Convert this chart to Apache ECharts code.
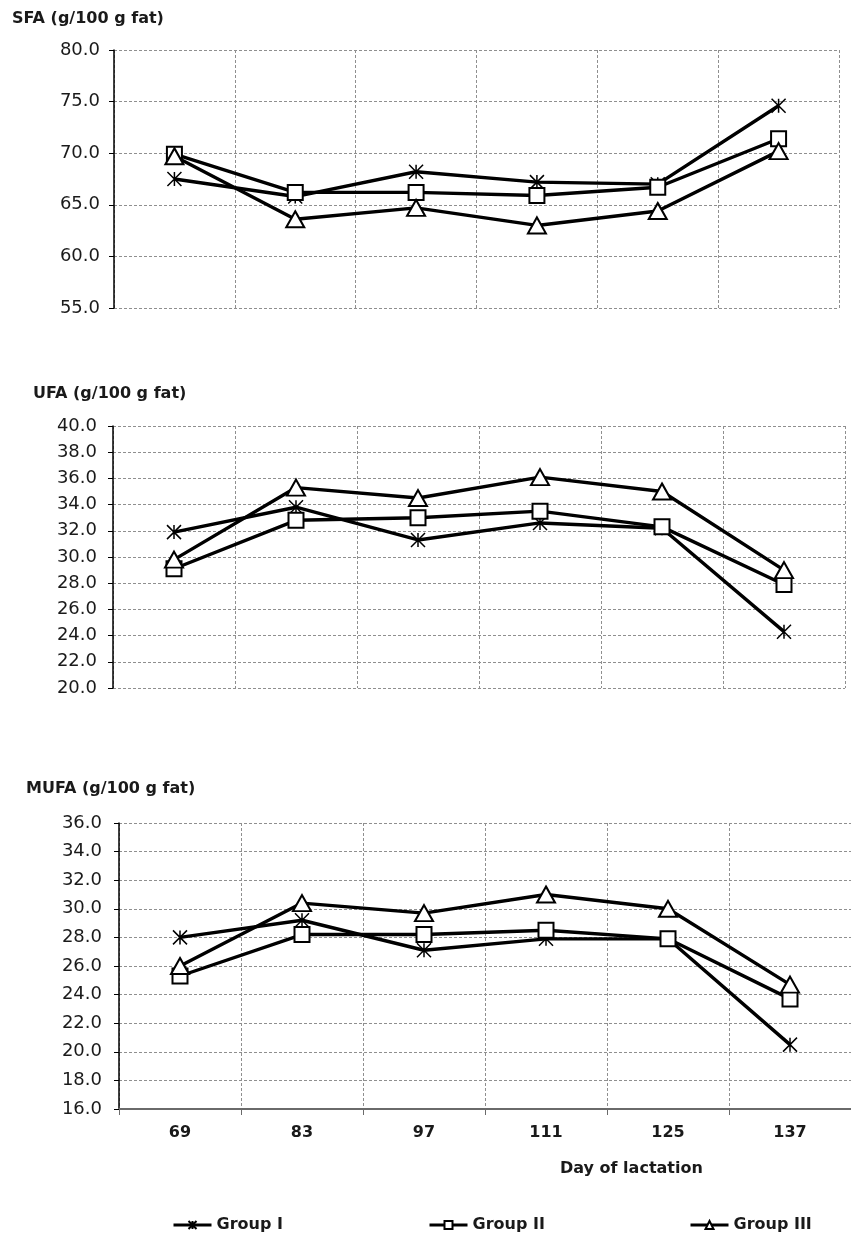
<!DOCTYPE html>
<html>
<head>
<meta charset="utf-8">
<script src="https://cdn.jsdelivr.net/npm/echarts@6/dist/echarts.min.js"></script>
<style>
html,body{margin:0;padding:0;background:#fff;}
#c{width:851px;height:1236px;}
</style>
</head>
<body>
<div id="c"></div>
<script>
// Day of lactation (categories)
const categories = ['69', '83', '97', '111', '125', '137'];
const seriesNames = ['Group I', 'Group II', 'Group III'];

// SFA (g/100 g fat)
const sfaI   = [67.5, 65.8, 68.2, 67.2, 67.0, 74.6];
const sfaII  = [69.9, 66.2, 66.2, 65.9, 66.7, 71.4];
const sfaIII = [69.7, 63.6, 64.7, 63.0, 64.4, 70.2];

// UFA (g/100 g fat)
const ufaI   = [31.9, 33.8, 31.3, 32.6, 32.2, 24.3];
const ufaII  = [29.1, 32.8, 33.0, 33.5, 32.3, 27.9];
const ufaIII = [29.8, 35.3, 34.5, 36.1, 35.0, 29.0];

// MUFA (g/100 g fat)
const mufaI   = [28.0, 29.2, 27.1, 27.9, 27.9, 20.5];
const mufaII  = [25.3, 28.2, 28.2, 28.5, 27.9, 23.7];
const mufaIII = [26.0, 30.4, 29.7, 31.0, 30.0, 24.7];

const panelTitles = ['SFA (g/100 g fat)', 'UFA (g/100 g fat)', 'MUFA (g/100 g fat)'];
const xAxisName = 'Day of lactation';

const FONT = '"DejaVu Sans", "Liberation Sans", Arial, sans-serif';
const TXT = '#1a1a1a';
const GRIDC = '#8f8f8f';

const asteriskPath = 'path://M0,0L12,14M12,0L0,14M6,0L6,14';

function yAx(gi, min, max, interval, margin) {
  return {
    type: 'value', gridIndex: gi, min: min, max: max, interval: interval,
    axisLine: {show: true, onZero: false, lineStyle: {color: '#000', width: 1.5}},
    axisTick: {show: true, length: 5, lineStyle: {color: '#000', width: 1}},
    axisLabel: {formatter: v => v.toFixed(1), fontFamily: FONT, fontSize: 18, color: TXT, margin: margin},
    splitLine: {show: true, lineStyle: {color: GRIDC, type: [3, 2], width: 1}}
  };
}
function xAx(gi, bottom) {
  return {
    type: 'category', gridIndex: gi, data: categories, boundaryGap: true,
    axisLine: {show: bottom, onZero: false, lineStyle: {color: '#6a6a6a', width: 2}},
    axisTick: {show: bottom, length: 6, alignWithLabel: false, lineStyle: {color: '#6a6a6a', width: 1}},
    axisLabel: {show: bottom, fontFamily: FONT, fontSize: 16, fontWeight: 'bold', color: TXT, margin: 16},
    splitLine: {show: true, lineStyle: {color: GRIDC, type: [3, 2], width: 1}}
  };
}

const styles = [
  {symbol: asteriskPath, symbolSize: 14, itemStyle: {color: '#000', borderColor: '#000', borderWidth: 1.5}},
  {symbol: 'rect', symbolSize: 15, itemStyle: {color: '#fff', borderColor: '#000', borderWidth: 2}},
  {symbol: 'triangle', symbolSize: [18, 16], itemStyle: {color: '#fff', borderColor: '#000', borderWidth: 2}}
];

const panels = [[sfaI, sfaII, sfaIII], [ufaI, ufaII, ufaIII], [mufaI, mufaII, mufaIII]];
const series = [];
panels.forEach((groups, gi) => {
  groups.forEach((vals, si) => {
    series.push(Object.assign({
      type: 'line', name: seriesNames[si], xAxisIndex: gi, yAxisIndex: gi,
      data: vals, showAllSymbol: true,
      lineStyle: {color: '#000', width: 3.4},
      emphasis: {disabled: true},
      z: 2 + si
    }, JSON.parse(JSON.stringify(styles[si]))));
  });
});

function legendAt(name, left) {
  return {
    data: [name], left: left, top: 1212, itemWidth: 38, itemHeight: 10, itemGap: 6,
    lineStyle: {width: 3, color: '#000'},
    textStyle: {fontFamily: FONT, fontSize: 16, fontWeight: 'bold', color: TXT},
    selectedMode: false
  };
}

const option = {
  animation: false,
  backgroundColor: '#fff',
  grid: [
    {left: 114, top: 50, width: 725, height: 258},
    {left: 113, top: 426, width: 732, height: 262},
    {left: 119, top: 823, width: 741, height: 286}
  ],
  xAxis: [xAx(0, false), xAx(1, false), xAx(2, true)],
  yAxis: [yAx(0, 55, 80, 5, 14), yAx(1, 20, 40, 2, 16), yAx(2, 16, 36, 2, 17)],
  legend: [legendAt('Group I', 167), legendAt('Group II', 423), legendAt('Group III', 684)],
  graphic: [
    {type: 'text', left: 12, top: 11, style: {text: panelTitles[0], font: 'bold 16px ' + FONT, fill: TXT}},
    {type: 'text', left: 33, top: 386, style: {text: panelTitles[1], font: 'bold 16px ' + FONT, fill: TXT}},
    {type: 'text', left: 26, top: 781, style: {text: panelTitles[2], font: 'bold 16px ' + FONT, fill: TXT}},
    {type: 'text', left: 560, top: 1161, style: {text: xAxisName, font: 'bold 16px ' + FONT, fill: TXT}}
  ],
  series: series
};

const chart = echarts.init(document.getElementById('c'), null, {renderer: 'canvas'});
chart.setOption(option);
</script>
</body>
</html>
